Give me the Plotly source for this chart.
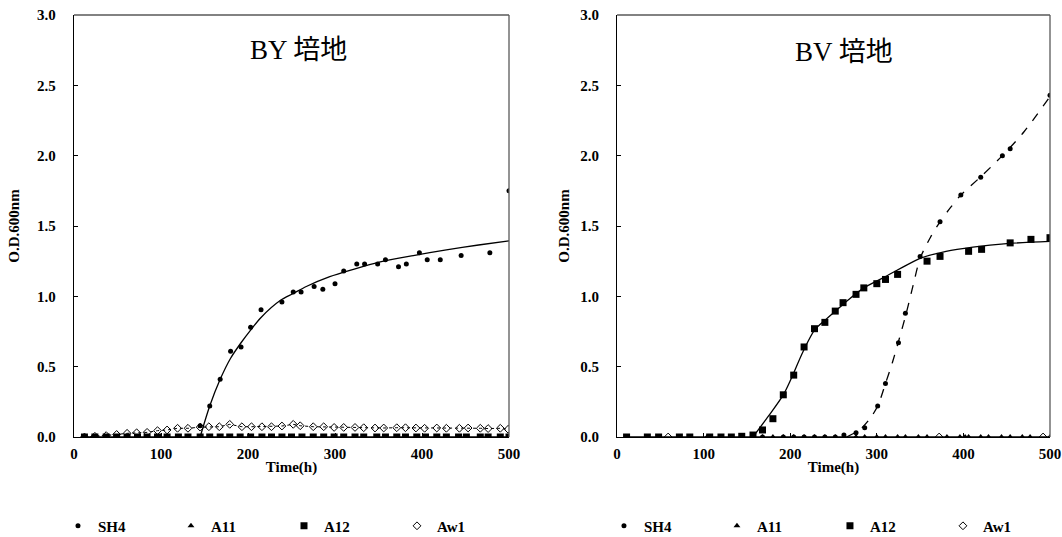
import plotly.graph_objects as go

FONT = "Liberation Serif, Times New Roman, Noto Sans CJK JP, serif"
BLACK = "#000000"
FRAME = "#595959"

# ---------------- BY 培地 (left) ----------------
by_sh4_t = [145, 156, 168, 180, 192, 203, 215, 239, 252, 261, 276, 286, 300, 310, 325, 334,
            349, 358, 373, 382, 397, 406, 421, 445, 478, 500]
by_sh4_v = [0.08, 0.22, 0.41, 0.61, 0.64, 0.78, 0.905, 0.96, 1.03, 1.03, 1.07, 1.05, 1.09, 1.18,
            1.23, 1.23, 1.23, 1.26, 1.21, 1.23, 1.31, 1.26, 1.26, 1.29, 1.31, 1.75]
by_sh4_fit_t = [145, 156, 168, 180, 192, 203, 215, 237, 252, 267, 294, 320, 352, 390, 428, 465, 500]
by_sh4_fit_v = [0.0, 0.22, 0.41, 0.56, 0.67, 0.76, 0.85, 0.97, 1.02, 1.07, 1.14, 1.19, 1.245, 1.29,
                1.33, 1.365, 1.395]

by_t = [12, 24, 37, 49, 61, 73, 84, 96, 107, 120, 131, 145, 156, 168, 179, 191, 203, 216, 227,
        239, 250, 262, 275, 287, 299, 310, 323, 333, 348, 358, 371, 381, 394, 404, 417, 428,
        442, 451, 467, 476, 490, 500]
by_a11_v = [0.0, 0.0, 0.0, 0.0, 0.0, 0.0, 0.0, 0.0, 0.0, 0.0, 0.0, 0.0, 0.0, 0.0, 0.0, 0.0,
            0.0, 0.0, 0.0, 0.0, 0.0, 0.0, 0.0, 0.0, 0.0, 0.0, 0.0, 0.0, 0.0, 0.0, 0.0, 0.0,
            0.0, 0.0, 0.0, 0.0, 0.0, 0.0, 0.0, 0.0, 0.0, 0.0]
by_a12_v = [0.0, 0.0, 0.0, 0.0, 0.0, 0.0, 0.0, 0.0, 0.0, 0.0, 0.0, 0.0, 0.0, 0.0, 0.0, 0.0,
            0.0, 0.0, 0.0, 0.0, 0.0, 0.0, 0.0, 0.0, 0.0, 0.0, 0.0, 0.0, 0.0, 0.0, 0.0, 0.0,
            0.0, 0.0, 0.0, 0.0, 0.0, 0.0, 0.0, 0.0, 0.0, 0.0]
by_zero_fit_t = [12, 500]
by_zero_fit_v = [0.0, 0.0]

by_aw1_t = [12, 24, 37, 49, 61, 72, 84, 96, 107, 119, 131, 145, 155, 167, 179, 193, 204, 216,
            227, 239, 252, 260, 275, 287, 299, 310, 323, 333, 346, 356, 371, 381, 393, 403,
            417, 428, 443, 453, 467, 476, 490, 499]
by_aw1_v = [0.0, 0.005, 0.01, 0.018, 0.026, 0.03, 0.033, 0.045, 0.05, 0.062, 0.062, 0.07,
            0.073, 0.073, 0.09, 0.073, 0.073, 0.073, 0.073, 0.078, 0.09, 0.08, 0.073, 0.073,
            0.068, 0.068, 0.068, 0.066, 0.064, 0.064, 0.066, 0.066, 0.064, 0.062, 0.064,
            0.062, 0.062, 0.064, 0.062, 0.06, 0.062, 0.055]

# ---------------- BV 培地 (right) ----------------
bv_sh4_t = [168, 192, 204, 216, 228, 240, 252, 262, 276, 286, 301, 310, 325, 333, 350, 373,
            397, 420, 445, 454, 500]
bv_sh4_v = [0.0, 0.0, 0.0, 0.0, 0.0, 0.0, 0.0, 0.014, 0.03, 0.066, 0.22, 0.38, 0.67, 0.88,
            1.284, 1.53, 1.72, 1.846, 2.0, 2.05, 2.43]
bv_sh4_fit_t = [265, 280, 292, 301, 310, 318, 326, 334, 342, 350, 362, 373, 385, 397, 420,
                445, 470, 500]
bv_sh4_fit_v = [0.0, 0.05, 0.13, 0.22, 0.38, 0.53, 0.70, 0.88, 1.08, 1.27, 1.42, 1.53, 1.63,
                1.72, 1.85, 2.0, 2.17, 2.42]

bv_a11_t = [104, 168, 180, 192, 204, 216, 228, 240, 252, 262, 276, 286, 300, 310, 324, 333,
            348, 358, 381, 396, 402, 406, 420, 429, 444, 454, 468, 477, 500]
bv_a11_v = [0.0, 0.0, 0.0, 0.0, 0.0, 0.0, 0.0, 0.0, 0.0, 0.0, 0.0, 0.0, 0.0, 0.0, 0.0, 0.0,
            0.0, 0.0, 0.0, 0.0, 0.0, 0.0, 0.0, 0.0, 0.0, 0.0, 0.0, 0.0, 0.0]
bv_zero_fit_t = [11, 500]
bv_zero_fit_v = [0.0, 0.0]

bv_a12_t = [11, 35, 48, 72, 84, 107, 120, 132, 144, 157, 168, 180, 192, 204, 216, 228, 240,
            252, 261, 276, 285, 300, 310, 324, 358, 373, 406, 421, 454, 478, 500]
bv_a12_v = [0.0, 0.0, 0.0, 0.0, 0.0, 0.0, 0.0, 0.0, 0.005, 0.014, 0.05, 0.13, 0.30, 0.44,
            0.64, 0.77, 0.815, 0.895, 0.955, 1.014, 1.06, 1.09, 1.12, 1.156, 1.25, 1.284,
            1.32, 1.334, 1.38, 1.405, 1.417]
bv_a12_fit_t = [157, 175, 192, 200, 215, 228, 240, 253, 268, 285, 310, 350, 380, 411, 450, 500]
bv_a12_fit_v = [0.0, 0.15, 0.30, 0.40, 0.61, 0.76, 0.83, 0.90, 0.98, 1.06, 1.14, 1.27, 1.32,
                1.35, 1.375, 1.39]

bv_aw1_t = [59, 372, 492]
bv_aw1_v = [0.0, 0.0, 0.0]

series_names = ["SH4", "A11", "A12", "Aw1"]
panel_titles = ["BY 培地", "BV 培地"]
x_ticks = [0, 100, 200, 300, 400, 500]
y_ticks = [0.0, 0.5, 1.0, 1.5, 2.0, 2.5, 3.0]

markers = {
    "SH4": dict(symbol="circle", size=5, color=BLACK),
    "A11": dict(symbol="triangle-up", size=6, color=BLACK),
    "A12": dict(symbol="square", size=7, color=BLACK),
    "Aw1": dict(symbol="diamond-open", size=6, color=BLACK, line=dict(width=1, color=BLACK)),
}

fig = go.Figure()


def line(x, y, xa, ya, dash="solid", width=1.3, shape="spline"):
    fig.add_trace(go.Scatter(x=x, y=y, xaxis=xa, yaxis=ya, mode="lines",
                             line=dict(color=BLACK, width=width, dash=dash, shape=shape,
                                       smoothing=0.8),
                             showlegend=False, hoverinfo="skip"))


def pts(x, y, name, xa, ya, legend):
    fig.add_trace(go.Scatter(x=x, y=y, xaxis=xa, yaxis=ya, mode="markers", name=name,
                             marker=markers[name], legend=legend, showlegend=True,
                             legendrank=series_names.index(name)))


# left panel
line(by_zero_fit_t, by_zero_fit_v, "x", "y", shape="linear")
line(by_aw1_t, by_aw1_v, "x", "y", dash="dot", width=1, shape="linear")
line(by_sh4_fit_t, by_sh4_fit_v, "x", "y")
pts(by_t, by_a11_v, "A11", "x", "y", "legend")
pts(by_t, by_a12_v, "A12", "x", "y", "legend")
pts(by_aw1_t, by_aw1_v, "Aw1", "x", "y", "legend")
pts(by_sh4_t, by_sh4_v, "SH4", "x", "y", "legend")

# right panel
line(bv_zero_fit_t, bv_zero_fit_v, "x2", "y2", shape="linear")
line(bv_a12_fit_t, bv_a12_fit_v, "x2", "y2")
line(bv_sh4_fit_t, bv_sh4_fit_v, "x2", "y2", dash="dash")
pts(bv_a11_t, bv_a11_v, "A11", "x2", "y2", "legend2")
pts(bv_a12_t, bv_a12_v, "A12", "x2", "y2", "legend2")
pts(bv_aw1_t, bv_aw1_v, "Aw1", "x2", "y2", "legend2")
pts(bv_sh4_t, bv_sh4_v, "SH4", "x2", "y2", "legend2")

tickfont = dict(family=FONT, size=15, color=BLACK, weight="bold")
titlefont = dict(family=FONT, size=15, color=BLACK, weight="bold")

xcommon = dict(range=[0, 500], tickvals=x_ticks, showgrid=False, zeroline=False,
               showline=True, linecolor=BLACK, linewidth=1.3, ticks="inside", ticklen=4,
               tickcolor=BLACK, tickfont=tickfont, ticklabelstandoff=3,
               title=dict(text="Time(h)", font=titlefont, standoff=0))


def ycommon(standoff):
    return dict(range=[0, 3], tickvals=y_ticks, tickformat=".1f", showgrid=False,
                zeroline=False, showline=True, linecolor=BLACK, linewidth=1.3,
                ticks="inside", ticklen=4, tickcolor=BLACK, tickfont=tickfont,
                ticklabelstandoff=14,
                title=dict(text="O.D.600nm", font=titlefont, standoff=standoff))


legfont = dict(family=FONT, size=15, color=BLACK, weight="bold")
legcommon = dict(orientation="h", font=legfont, bgcolor="rgba(0,0,0,0)",
                 entrywidth=68, entrywidthmode="pixels", itemwidth=30,
                 yanchor="middle", y=-0.211, xanchor="left", traceorder="normal")

shapes = []
for xr, yr in [("x", "y"), ("x2", "y2")]:
    shapes.append(dict(type="line", xref=f"{xr} domain", yref=f"{yr} domain",
                       x0=0, x1=1, y0=1, y1=1, line=dict(color=FRAME, width=1.3)))
    shapes.append(dict(type="line", xref=f"{xr} domain", yref=f"{yr} domain",
                       x0=1, x1=1, y0=0, y1=1, line=dict(color=FRAME, width=1.3)))

annotations = [
    dict(text=panel_titles[0], xref="x domain", yref="y domain", x=0.515, y=0.917,
         showarrow=False, font=dict(family=FONT, size=27, color=BLACK),
         xanchor="center", yanchor="middle"),
    dict(text=panel_titles[1], xref="x2 domain", yref="y2 domain", x=0.524, y=0.912,
         showarrow=False, font=dict(family=FONT, size=27, color=BLACK),
         xanchor="center", yanchor="middle"),
]

fig.update_layout(
    width=1062, height=537, autosize=False,
    margin=dict(l=74, r=12, t=15, b=100, autoexpand=False),
    paper_bgcolor="white", plot_bgcolor="white",
    xaxis=dict(domain=[0, 0.4457], anchor="y", **xcommon),
    yaxis=dict(domain=[0, 1], anchor="x", **ycommon(13)),
    xaxis2=dict(domain=[0.5564, 1], anchor="y2", **xcommon),
    yaxis2=dict(domain=[0, 1], anchor="x2", **ycommon(6)),
    legend=dict(x=-0.0164, **legcommon),
    legend2=dict(x=0.543, **legcommon),
    shapes=shapes, annotations=annotations,
)

fig.write_html("out.html", config={"displayModeBar": False},
               post_script="document.body.style.margin='0px';")
